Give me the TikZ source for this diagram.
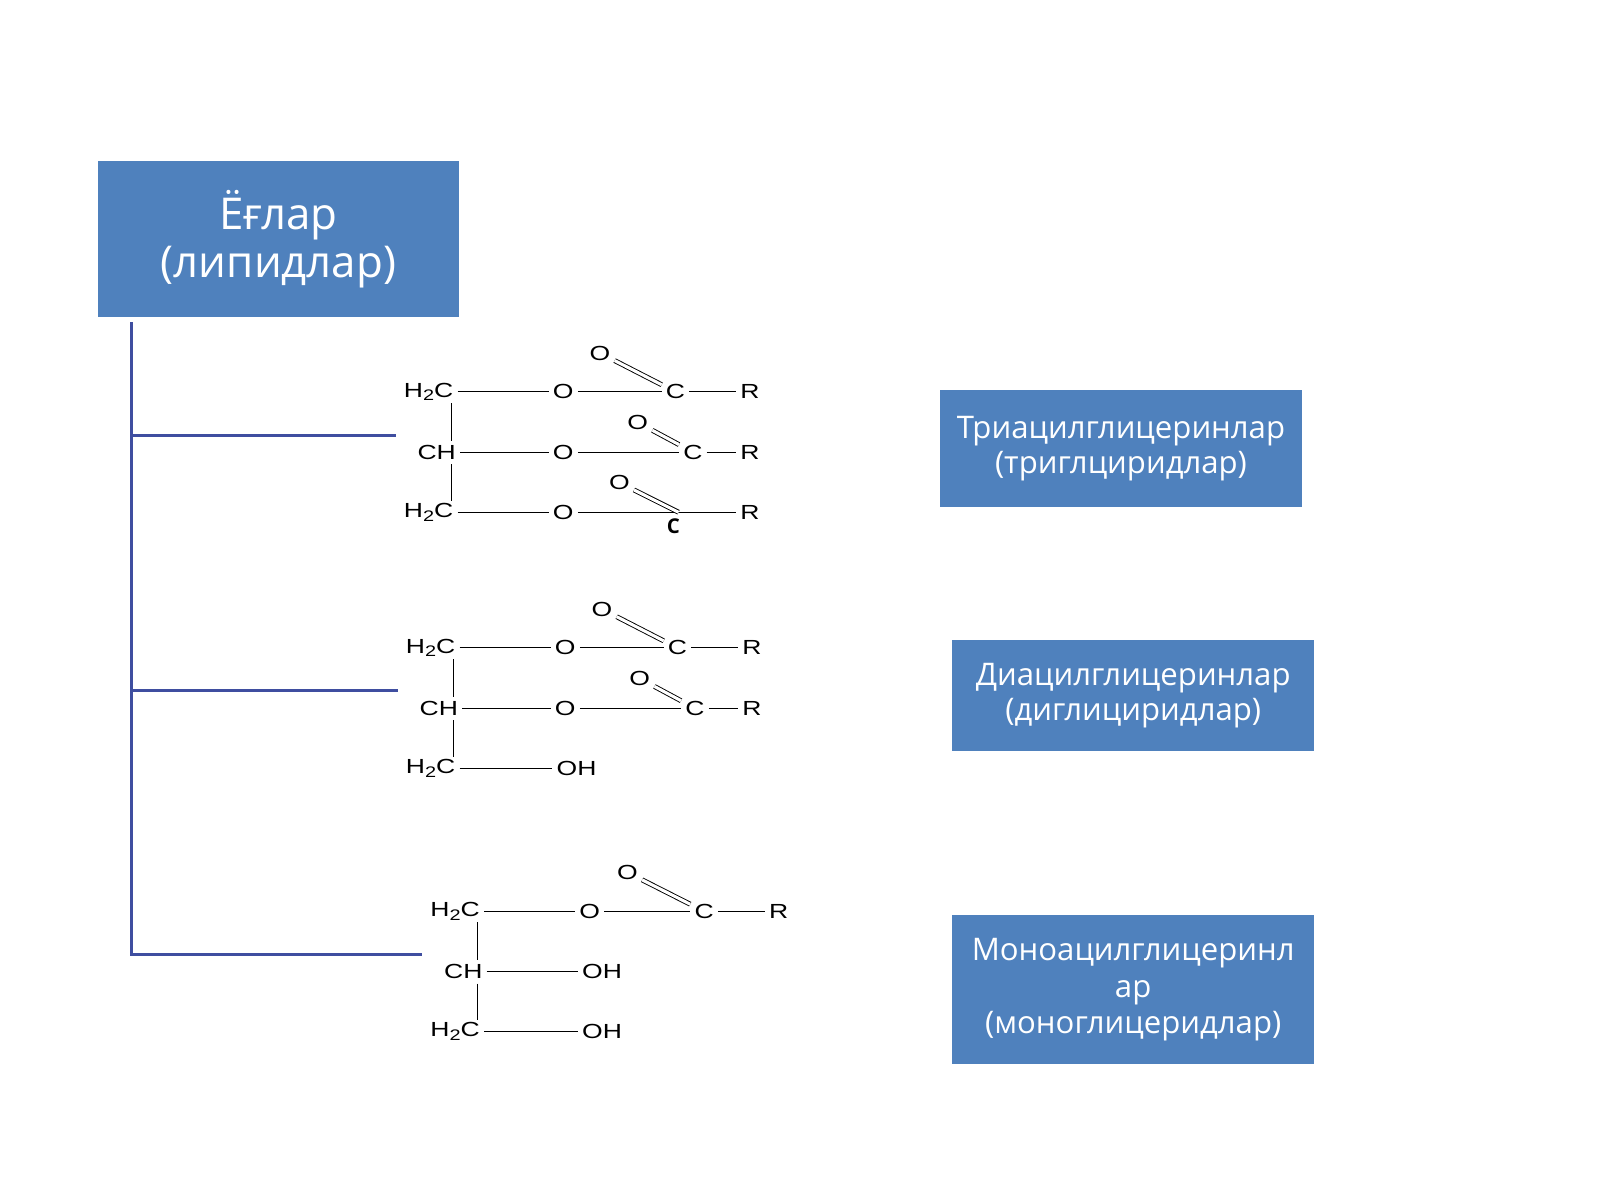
\documentclass[tikz,border=0pt]{standalone}
\usepackage{fontspec}
\setmainfont{Open Sans}
\newfontfamily\chemf[FakeStretch=1.3]{Liberation Sans}
\definecolor{boxb}{HTML}{4F81BD}
\definecolor{lineb}{HTML}{3F4EA0}
\newcommand{\hh}{H\raisebox{-0.35ex}{\fontsize{15}{15}\selectfont 2}C}
\begin{document}
\begin{tikzpicture}[x=1pt,y=-1pt,
  box/.style={fill=boxb,draw=none,text=white,align=center,inner sep=0pt},
  ch/.style={font=\chemf\fontsize{20}{20}\selectfont,inner sep=4pt},
  bond/.style={line width=1pt},
  dbl/.style={line width=0.9pt,double,double distance=3pt},
  tree/.style={lineb,line width=3pt}]
\useasboundingbox (0,0) rectangle (1568,1176);
% boxes
\node[box,minimum width=354pt,minimum height=153pt,font=\fontsize{43}{47}\selectfont] (root) at (273,234.5) {Ёғлар\\(липидлар)};
\node[box,minimum width=355pt,minimum height=115pt,font=\fontsize{30.5}{34}\selectfont] (tri) at (1098.5,439.5) {Триацилглицеринлар\\(триглциридлар)};
\node[box,minimum width=355pt,minimum height=109pt,font=\fontsize{30.5}{34}\selectfont] (di) at (1110.5,681.5) {Диацилглицеринлар\\(диглициридлар)};
\node[box,minimum width=355pt,minimum height=146pt,font=\fontsize{30.5}{36}\selectfont] (mono) at (1110.5,970) {Моноацилглицеринл\\ар\\(моноглицеридлар)};
% tree
\coordinate (t0) at (129,316);
\coordinate (t1) at (129,427); \coordinate (e1) at (388,427);
\coordinate (t2) at (129,677); \coordinate (e2) at (390,677);
\coordinate (t3) at (129,935); \coordinate (e3) at (414,935);
\draw[tree] (t0) -- (t3) -- (e3);
\draw[tree] (t1) -- (e1);
\draw[tree] (t2) -- (e2);
% structure 1
\begin{scope}[name prefix=a-]
\node[ch] (c1) at (420,384) {\hh};
\node[ch] (c2) at (428,443) {CH};
\node[ch] (c3) at (420,502) {\hh};
\node[ch] (o1) at (552,384) {O}; \node[ch] (k1) at (662,384) {C}; \node[ch] (r1) at (735,384) {R}; \node[ch] (d1) at (588,346) {O};
\node[ch] (o2) at (552,443) {O}; \node[ch] (k2) at (679,443) {C}; \node[ch] (r2) at (735,443) {R}; \node[ch] (d2) at (625,414) {O};
\node[ch] (o3) at (552,502) {O}; \coordinate (k3) at (665,502); \node[ch] (r3) at (735,502) {R}; \node[ch] (d3) at (607,473) {O};
\node[font=\bfseries\fontsize{20}{20}\selectfont] (kb) at (660,516) {C};
\end{scope}
\draw[bond] (442,395) -- (442,432) (442,455) -- (442,491);
\draw[bond] (a-c1) -- (a-o1) -- (a-k1) -- (a-r1);
\draw[bond] (a-c2) -- (a-o2) -- (a-k2) -- (a-r2);
\draw[bond] (a-c3) -- (a-o3) (a-o3) -- (a-r3);
\draw[dbl] (a-d1) -- (a-k1); \draw[dbl] (a-d2) -- (a-k2); \draw[dbl] (a-d3) -- (a-k3);
% structure 2
\begin{scope}[name prefix=b-]
\node[ch] (c1) at (422,635) {\hh};
\node[ch] (c2) at (430,694) {CH};
\node[ch] (c3) at (422,753) {\hh};
\node[ch] (o1) at (554,635) {O}; \node[ch] (k1) at (664,635) {C}; \node[ch] (r1) at (737,635) {R}; \node[ch] (d1) at (590,597) {O};
\node[ch] (o2) at (554,694) {O}; \node[ch] (k2) at (681,694) {C}; \node[ch] (r2) at (737,694) {R}; \node[ch] (d2) at (627,665) {O};
\node[ch] (o3) at (565,753) {OH};
\end{scope}
\draw[bond] (444,646) -- (444,683) (444,706) -- (444,742);
\draw[bond] (b-c1) -- (b-o1) -- (b-k1) -- (b-r1);
\draw[bond] (b-c2) -- (b-o2) -- (b-k2) -- (b-r2);
\draw[bond] (b-c3) -- (b-o3);
\draw[dbl] (b-d1) -- (b-k1); \draw[dbl] (b-d2) -- (b-k2);
% structure 3
\begin{scope}[name prefix=c-]
\node[ch] (c1) at (446,893) {\hh};
\node[ch] (c2) at (454,952) {CH};
\node[ch] (c3) at (446,1011) {\hh};
\node[ch] (o1) at (578,893) {O}; \node[ch] (k1) at (690,893) {C}; \node[ch] (r1) at (763,893) {R}; \node[ch] (d1) at (615,855) {O};
\node[ch] (o2) at (590,952) {OH};
\node[ch] (o3) at (590,1011) {OH};
\end{scope}
\draw[bond] (468,904) -- (468,941) (468,964) -- (468,1000);
\draw[bond] (c-c1) -- (c-o1) -- (c-k1) -- (c-r1);
\draw[bond] (c-c2) -- (c-o2);
\draw[bond] (c-c3) -- (c-o3);
\draw[dbl] (c-d1) -- (c-k1);
\end{tikzpicture}
\end{document}
